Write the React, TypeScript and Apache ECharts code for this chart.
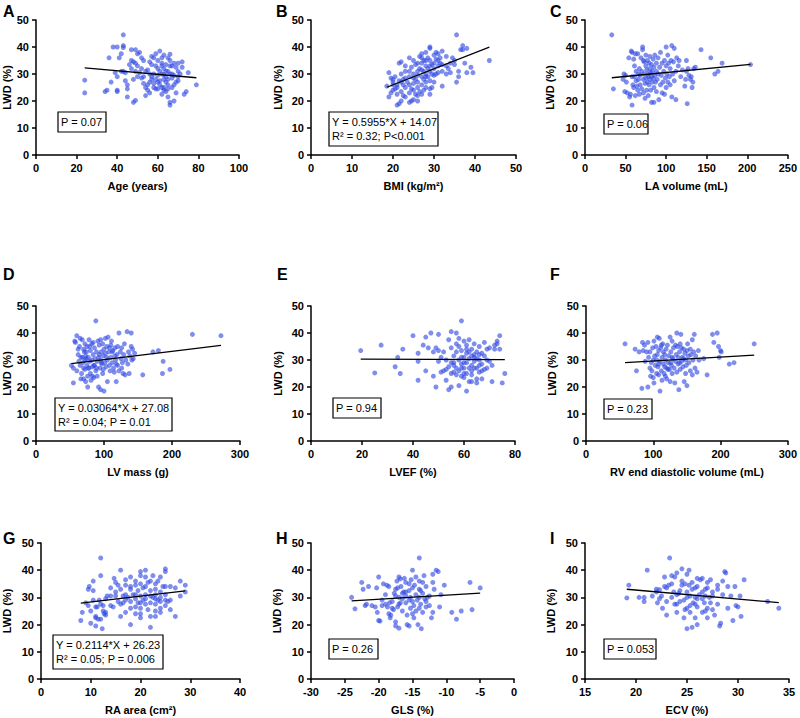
import React, { useEffect, useRef } from 'react';
import * as echarts from 'echarts';

type P = [number, number];

const panelLabels = ['A', 'B', 'C', 'D', 'E', 'F', 'G', 'H', 'I'];
const xTitles = ['Age (years)', 'BMI (kg/m²)', 'LA volume (mL)', 'LV mass (g)', 'LVEF (%)', 'RV end diastolic volume (mL)', 'RA area (cm²)', 'GLS (%)', 'ECV (%)'];
const yTitle = 'LWD (%)';
const xMin = [0, 0, 0, 0, 0, 0, 0, -30, 15];
const xMax = [100, 50, 250, 300, 80, 300, 40, 0, 35];
const xInterval = [20, 10, 50, 100, 20, 100, 10, 5, 5];
const yMin = 0;
const yMax = 50;
const yInterval = 10;

const ageData: P[] = [[24,27.7],[24,23],[35,24],[34,23.5],[36,36],[38,40],[40,40],[37,27],[39,30.5],[40,24],[40,23.5],[40,29],[41,36],[42,37.5],[43,44.5],[43,40.5],[43,39.8],[43,31],[44,27.5],[45,26],[45,24.5],[45,21.5],[46,33.5],[47,32],[47,39],[48,28],[48,19.5],[49,20.2],[48,34.5],[49,34],[49,39],[50,37.5],[50,33],[51,38],[51,30.5],[52,32],[52,28.5],[53,29],[53,35],[54,22],[54,25],[55,31.5],[55,26],[56,27],[56,23],[56,34.5],[57,33.5],[57,28],[58,36],[58,30],[58,25],[59,37.5],[59,33],[59,24.5],[60,35],[60,27],[60,29.5],[61,38.5],[61,31],[61,26],[62,34],[62,30],[62,25],[62,22.5],[63,37],[63,32],[63,28],[63,25],[64,33.5],[64,29],[64,27],[64,23.5],[65,36],[65,31],[65,26],[65,21.5],[66,35],[66,37.3],[66,18.5],[66,19.5],[66,30],[67,33],[67,28.5],[67,25],[68,34],[68,20],[68,29.5],[69,32.5],[69,27],[69,23],[70,31],[70,34],[70,27.5],[71,30],[72,34.5],[72,32.5],[73,22.5],[74,23.5],[75,30.5],[79,26],[57,29],[55,24],[53,26.5],[60,32],[62,33],[64,31],[66,33],[67,30],[61,27.5],[58,26.5],[52,36],[47,35],[44,30.5],[42,31],[50,29],[56,30],[59,28],[63,29.8],[65,28],[68,26],[70,29],[57,36.5],[60,24.5],[63,24],[65,24.5],[49,31],[54,31],[62,36]];

const bmiData: P[] = [[18.5,25.5],[19,30.5],[19,21.5],[19.5,23],[19.5,28.5],[20,27],[20,26],[20,24],[20.5,29],[21,22.5],[21,18.5],[21,25],[21.5,19],[21.5,27.5],[21.5,34],[22,34.5],[22,30],[22,20],[22,23.5],[22.5,28],[22.5,26],[23,31],[23,25],[23,21.5],[23,33],[23.5,27],[24,36],[24,29],[24,19.5],[24,23],[24.5,32.5],[24.5,20],[25,35],[25,30],[25,26.5],[25,24],[25,20.5],[25.5,33.5],[25.5,28],[25.5,22.5],[26,34],[26,31],[26,27],[26,25],[26,29.5],[26.5,36.5],[26.5,32],[26.5,23.5],[27,37.5],[27,34],[27,29],[27,26],[27,22.5],[27.5,35],[27.5,31],[27.5,28],[27.5,24],[28,38],[28,33],[28,30],[28,27],[28,25],[28.5,36],[28.5,32],[28.5,29],[29,40],[29,39.5],[29,35],[29,31],[29,27.5],[29,24.5],[29,22.5],[29.5,33.5],[29.5,30],[29.5,25],[30,37],[30,34],[30,32],[30,29.5],[30.5,38],[30.5,35.5],[30.5,30],[31,37.5],[31,33],[31,30.5],[31.5,34],[31.5,36],[32,38.5],[32,31],[32,25.5],[33,33],[33,36.5],[33.5,32],[34,34],[34,30.5],[35,35],[35,33.5],[35.5,44.5],[35.5,27],[36,29],[36,31],[36.5,39],[37,40.5],[37,39],[37.5,34],[38,39.5],[38,30.5],[39,32.5],[39.5,30.5],[43.5,35],[20,28],[21,26],[22,27],[23,28.5],[24,26],[24,31],[25,28.5],[26,22],[27,31.5],[28,35],[29,33],[30,27],[31,35],[32,33.5],[26,20],[24.5,24.5],[22.5,22],[20.5,24.5],[28,29],[27,36],[33,30],[34.5,36]];

const laData: P[] = [[33,44.5],[35,24.5],[47,28],[48,30],[49,23.5],[50,29.5],[51,27],[52,23],[54,36],[55,21.5],[56,22.5],[57,38.5],[58,38],[58,29],[59,26],[60,35.5],[60,25],[61,29],[61,33],[62,37.5],[62,22],[63,31],[63,27.5],[64,25.5],[65,37.5],[65,24],[66,30],[66,28],[67,32],[67,22.5],[68,26],[68,29.5],[69,36],[70,31],[70,24.5],[71,40],[71,39],[72,35],[72,28],[72,23],[73,34.5],[73,30],[74,26.5],[74,21],[75,37],[75,33],[75,28.5],[76,24],[76,31.5],[77,35],[77,27],[78,29],[78,22],[78,30],[79,34],[79,26],[80,36.5],[80,32],[80,28],[81,30.5],[81,24],[82,33.5],[82,29],[82,19.5],[83,31],[83,27],[84,35.5],[84,28.5],[85,25],[85,32.5],[86,29.5],[86,37],[87,27],[88,34],[88,31],[88,23.5],[89,28],[90,36],[90,30],[91,20.5],[92,32.5],[93,26],[93,38],[94,29.5],[95,34],[95,23],[96,27],[97,31],[98,35],[98,22.5],[99,28.5],[100,40],[100,33],[100,25],[101,30],[102,37],[102,27],[103,34],[104,29],[105,32],[105,26],[106,35],[107,40.5],[107,21.5],[108,30],[109,34.5],[110,27.5],[110,39.5],[112,20.5],[112,31],[113,36],[115,33],[116,35],[118,29],[120,31.5],[123,25.5],[124,28],[125,31],[125,35],[126,19],[127,32],[128,29.5],[130,28],[131,29],[132,25],[133,27],[134,32],[136,32.5],[143,39],[155,36],[160,30],[164,31],[169,34],[204,33.5],[58,18.5],[85,19.5]];

const lvMassData: P[] = [[52,28],[55,27],[55,21.5],[57,37],[58,36.5],[60,26],[60,39],[62,32],[62,34],[63,29.5],[65,38],[65,28],[66,23],[67,25],[68,37.5],[68,31],[70,34],[70,27],[70,23],[72,36],[72,30],[72,26.5],[73,22],[74,33],[75,28],[75,35],[76,24],[76,20],[77,31],[78,27],[78,37.5],[79,29.5],[80,33.5],[80,25],[81,22.5],[82,30],[82,36],[83,27.5],[84,32],[85,28],[85,23.5],[86,34.5],[87,30.5],[88,44.5],[88,26],[89,33],[90,29.5],[90,24],[91,37],[92,31],[92,20],[93,35.5],[94,27],[95,30],[95,19],[96,33],[97,28.5],[98,36],[98,25],[99,31.5],[100,34],[100,18.5],[101,29],[102,38],[102,32.5],[103,27.5],[104,35],[105,22],[105,30],[106,38.5],[107,33],[108,28],[109,26],[110,35.5],[110,31],[111,37],[112,29],[113,33.5],[114,27],[115,25.5],[116,34.5],[117,30],[118,22],[119,32],[120,35],[120,28],[122,40],[122,26],[124,33],[125,30.5],[126,34.5],[127,29],[128,25],[129,32],[130,36],[131,24.5],[132,30],[134,40.5],[135,28.5],[136,33],[137,25],[138,31.5],[140,40],[140,35],[141,30],[142,34],[143,30.5],[145,32.5],[157,24.5],[172,33],[180,33.5],[186,25],[187,29.5],[197,26.5],[230,39.5],[272,39],[64,35],[66,31],[69,29],[71,33],[74,30.5],[77,27],[79,35],[83,24],[86,28],[89,27],[93,32],[96,29],[99,26.5],[104,31],[108,34.5],[112,33],[116,31.5],[118,28.5],[126,27],[95,37.5],[84,36.5],[73,31.5]];

const lvefData: P[] = [[19.5,33.5],[25,25.2],[27.5,35.5],[33,27.5],[34,31],[35,25],[36,34],[40,39],[42,32.5],[42,29.5],[42,22.5],[44,35.5],[45,38.5],[45,26],[46,34.5],[47,40],[48,33],[48,24],[49,34.5],[49,20],[50,29.5],[50,39.5],[51,25.5],[51,31],[52,26],[52,33],[53,30],[53,22.5],[54,37.5],[54,27.5],[54,19],[55,40.5],[55,34.5],[55,20],[55,25],[56,31.5],[56,28],[57,36],[57,24.5],[57,40],[58,38],[58,30],[58,20.5],[58,26],[59,44.5],[59,33.5],[59,28.5],[59,24],[60,37],[60,31],[60,27],[60,23.5],[61,35.5],[61,29],[61,25],[61,18.5],[62,37.5],[62,33],[62,30.5],[62,22],[63,34],[63,28],[63,26],[63,24.5],[64,36],[64,31],[64,29.5],[65,33],[65,27],[65,23],[65,21.5],[66,35],[66,30],[66,25.5],[67,32.5],[67,28.5],[67,23],[68,36.5],[68,31.5],[68,26.5],[69,34],[69,27],[70,34.5],[70,29.5],[71,28],[71,22],[72,35.5],[72,34],[73,37],[73,36],[74,39],[74,34],[75,21.5],[76,25],[56,29],[57,33],[58,35],[59,31],[60,29],[61,32.5],[62,27],[63,31.5],[64,27],[65,30.5],[66,28],[56,25.5],[55,29],[57,27],[53,26.5],[50,33.5],[59,27],[61,34],[63,22],[60,25],[64,32],[66,32],[69,30],[67,26]];

const rvData: P[] = [[58,36],[73,34],[75,26],[79,33],[83,19.5],[84,36.5],[85,33.5],[87,35.5],[88,29.5],[90,33],[92,20],[92,36.5],[93,31],[95,27],[97,29],[98,26],[99,34.5],[100,30],[100,23.5],[101,37],[101,21.5],[103,28],[104,35],[105,25],[105,30],[106,38.5],[106,32],[107,27.5],[108,33.5],[108,24.5],[109,38],[110,29.5],[110,18.5],[111,34.5],[112,26],[113,31],[113,22.5],[114,36],[115,28.5],[116,25],[117,32],[118,30],[119,34],[120,27],[120,23],[121,35.5],[122,29],[123,31.5],[124,26.5],[125,38.5],[125,22],[126,33],[127,28],[128,37],[128,25],[129,30.5],[130,34.5],[131,27],[132,21.5],[133,29.5],[134,32],[135,40],[135,25.5],[136,35],[137,31],[137,28.5],[138,19],[139,33],[140,36],[140,26.5],[141,39.5],[142,29.5],[143,31],[144,27.5],[145,34],[146,22],[147,32.5],[148,30],[149,28],[150,33.5],[150,20.5],[151,36],[152,31.5],[153,29],[155,34],[155,26],[156,32],[158,37.5],[158,24.5],[159,30],[160,33],[161,39.5],[162,27],[163,31.5],[165,25.5],[167,33.5],[168,30],[175,30.5],[180,24.5],[188,39.5],[190,36.5],[195,40],[197,35],[198,31],[200,33.5],[201,33],[213,28.5],[220,29],[250,36],[95,33],[102,31.5],[115,33],[118,24],[122,26.5],[128,31],[133,35.5],[139,29],[142,34.5],[148,25],[96,24],[108,28.5],[112,35.5],[126,29],[117,27.5],[145,30.5]];

const raData: P[] = [[8,21.5],[8.3,24.5],[9,28],[9.5,33],[9.5,27],[9.7,34],[10,20.5],[10,25],[10.5,36],[10.5,29],[11,26.5],[11,23],[11,19.5],[11.3,26.5],[11.5,22],[11.7,29],[12,44.5],[12,38],[12,22],[12,27.5],[12.3,18.5],[12.5,25],[12.7,24],[13,23.5],[13,29.5],[13.3,30.5],[14,30.5],[14,27],[14.5,26.5],[14.7,37],[15,35.5],[15,30.5],[15.5,34.5],[15.5,28.5],[16,40],[16,33],[16,23],[16.5,30.5],[16.5,28],[17,36.5],[17,31],[17,29],[17,24.5],[17.5,30],[18,37.5],[18,34],[18,33],[18,20],[18,28.5],[18.5,31],[19,34.5],[19,29.5],[19,26.5],[19,24],[19.5,32.5],[19.5,28],[20,39.5],[20,38],[20,35],[20,30.5],[20,26],[20,24],[20,22.5],[20.5,33.5],[20.5,29],[21,40],[21,37.5],[21,34],[21,31],[21,27.5],[21.5,35.5],[21.5,25.5],[22,36],[22,32.5],[22,28],[22,19],[22,23],[22.5,38],[22.5,30],[23,35],[23,33],[23,31],[23,27.5],[23,25],[23,23],[23.5,36],[23.5,29],[24,37.5],[24,32],[24,30],[24,26],[24,24.5],[24.5,34],[25,40.5],[25,39.5],[25,34],[25,31],[25,29],[25,27],[25.5,28.5],[26,34],[26,25.5],[26,29],[27,33.5],[27,23],[28,36],[28,30.5],[29,34.5],[29,32],[19,36],[18,26],[17,34.5],[16,27.5],[15,32],[13,24.5],[14,33.5],[10.5,32.5],[22,30.5],[23,29.5],[21,29.5],[20,28],[24,28.5],[19,31],[12.5,27],[11,22.5]];

const glsData: P[] = [[-24,30],[-23.5,25.8],[-22.5,35.5],[-22.3,33],[-22,27],[-21.8,27.5],[-21.5,34],[-21,27],[-20.5,26.5],[-20.3,33.5],[-20.2,24.5],[-20,37.5],[-20,21.5],[-19.8,21.3],[-19.5,27],[-19.3,35],[-19,31],[-19,27.5],[-18.8,34.5],[-18.5,34],[-18.5,24],[-18.3,22.5],[-18.2,23.5],[-18,28.5],[-18,26],[-17.8,25.5],[-17.7,31.5],[-17.5,21],[-17.5,19.5],[-17.3,36],[-17.2,33.5],[-17,37.5],[-17,30],[-17,27.5],[-17,18.7],[-16.8,36.8],[-16.7,34],[-16.5,29.5],[-16.5,25],[-16.3,32],[-16.2,37],[-16,30.5],[-16,28],[-15.8,23.5],[-15.8,20],[-15.5,35],[-15.5,32.5],[-15.5,19.5],[-15.3,30],[-15.3,26],[-15,40],[-15,33.5],[-15,28.5],[-14.8,22.5],[-14.7,34.5],[-14.5,37.5],[-14.5,31],[-14.5,25],[-14.3,29],[-14.2,20],[-14,44.5],[-14,36],[-14,33],[-13.8,27.5],[-13.7,18.5],[-13.5,35.5],[-13.5,31.5],[-13.5,24.5],[-13.3,38],[-13.2,29.5],[-13,34],[-13,26.5],[-12.8,30],[-12.5,30.5],[-12.5,27],[-12.2,22.5],[-12,38.5],[-12,35.5],[-12,24.5],[-11.8,33],[-11.5,40],[-11.2,39.5],[-11,26.5],[-10.8,31],[-10.3,34.5],[-9.2,24.5],[-7.8,25],[-8.5,22],[-6.5,35.5],[-6.2,25.5],[-5,33.5],[-17.5,30.5],[-16.8,28],[-16,32],[-15.5,29],[-14.8,27],[-14,30],[-13.8,32.5],[-16.5,31.5],[-17.2,26.5],[-18.7,26.5],[-19.5,29],[-15,24],[-14,26],[-13,28.5],[-16,35.5],[-17.5,33],[-15.2,36.5],[-18.4,28]];

const ecvData: P[] = [[19.1,29.8],[19.3,34.5],[20.3,30],[20.8,30],[20.8,28.5],[21.1,40],[21.6,30.5],[22,33],[22,32],[22.1,28],[22.3,29.5],[22.5,30.5],[22.6,26],[22.8,37.5],[22.8,34],[23,28.5],[23,23.5],[23.2,34.5],[23.3,44.5],[23.5,38],[23.5,30],[23.7,32],[23.8,37.5],[23.8,27.5],[24,39],[24,24.5],[24.2,31.5],[24.3,28.5],[24.5,40.5],[24.5,34.5],[24.7,29],[24.7,22.5],[24.8,35],[25,38.5],[25,32],[25,26],[25,18.5],[25.2,40],[25.2,34.5],[25.3,30.5],[25.3,24.5],[25.5,19],[25.5,35.5],[25.6,28],[25.8,33.5],[25.8,30],[25.8,22.5],[26,34],[26,29.5],[26,26.5],[26,20],[26.2,31],[26.3,36.5],[26.5,37],[26.5,24.5],[26.7,28],[26.8,33],[26.8,30.5],[27,35.5],[27,22.5],[27,26],[27.2,30],[27.3,36.5],[27.3,28],[27.5,32],[27.5,25.5],[27.7,23.5],[28,34.5],[28,33],[28,27.5],[28.2,19.5],[28.3,20.5],[28.5,36],[28.5,31],[28.7,39.5],[28.8,39],[29,26],[29,34],[29.3,30.5],[29.5,21.5],[29.7,34],[29.8,27],[30,26.5],[30.2,30.5],[30.3,23],[30.6,36.5],[32.9,28.5],[34,26],[24,31],[25.5,33],[26.5,32],[25,30],[24.5,36],[27,33.5],[23.5,35],[24,27.5],[25.8,27.5],[26,37],[24.3,32.5],[26.8,25],[22.3,32.8],[23,33.5],[26.5,29.5],[25.3,27],[27.5,30.5],[24.8,25.5]];

const panelData: P[][] = [ageData, bmiData, laData, lvMassData, lvefData, rvData, raData, glsData, ecvData];

const fitSlope = [-0.067, 0.5955, 0.0292, 0.03064, -0.003, 0.01458, 0.2114, 0.1526, -0.329];
const fitIntercept = [33.9, 14.07, 27.64, 27.08, 30.35, 28.15, 26.23, 32.35, 39.28];

const annotations = [
  'P = 0.07',
  'Y = 0.5955*X + 14.07\nR² = 0.32; P<0.001',
  'P = 0.06',
  'Y = 0.03064*X + 27.08\nR² = 0.04; P = 0.01',
  'P = 0.94',
  'P = 0.23',
  'Y = 0.2114*X + 26.23\nR² = 0.05; P = 0.006',
  'P = 0.26',
  'P = 0.053',
];

// layout (pixels)
const gridLeftPx = [36, 311, 585, 36, 311, 586, 36, 311, 585];
const gridRightPx = [239, 516, 789, 240, 515, 789, 240, 514, 789];
const rowTopPx = [20, 306, 543];
const rowBottomPx = [155, 441, 679];
const yNameGap = [15, 20, 22, 15, 20, 21, 21, 21, 21];
const boxes = [
  [58, 112, 48, 20],
  [329, 112, 109, 34],
  [604, 114, 44, 20],
  [55, 398, 117, 33],
  [333, 398, 48, 20],
  [604, 399, 48, 20],
  [53, 635, 110, 34],
  [329, 639, 49, 20],
  [604, 639, 52, 20],
];
const labelPos = [
  [3, 3], [276, 3], [550, 3],
  [3, 266], [277, 266], [550, 266],
  [3, 530], [276, 530], [550, 530],
];

const FONT = '"Liberation Sans", Arial, Helvetica, sans-serif';
const DOT = '#3049e2';

function buildOption() {
  const grid: any[] = [];
  const xAxis: any[] = [];
  const yAxis: any[] = [];
  const series: any[] = [];
  const graphic: any[] = [];

  for (let i = 0; i < 9; i++) {
    const r = Math.floor(i / 3);
    grid.push({
      left: gridLeftPx[i],
      width: gridRightPx[i] - gridLeftPx[i],
      top: rowTopPx[r],
      height: rowBottomPx[r] - rowTopPx[r],
      containLabel: false,
    });
    const axisCommon = {
      axisLine: { show: true, onZero: false, lineStyle: { color: '#000', width: 1.5 } },
      axisTick: { show: true, length: 4, lineStyle: { color: '#000', width: 1.5 } },
      splitLine: { show: false },
      axisLabel: { color: '#000', fontFamily: FONT, fontWeight: 'bold', fontSize: 11, margin: 7 },
      nameTextStyle: { color: '#000', fontFamily: FONT, fontWeight: 'bold', fontSize: 11 },
    };
    xAxis.push({
      ...axisCommon,
      type: 'value',
      gridIndex: i,
      min: xMin[i],
      max: xMax[i],
      interval: xInterval[i],
      name: xTitles[i],
      nameLocation: 'middle',
      nameGap: 25,
    });
    yAxis.push({
      ...axisCommon,
      type: 'value',
      gridIndex: i,
      min: yMin,
      max: yMax,
      interval: yInterval,
      name: yTitle,
      nameLocation: 'middle',
      nameGap: yNameGap[i] + 8,
    });
    const data = panelData[i];
    series.push({
      type: 'scatter',
      xAxisIndex: i,
      yAxisIndex: i,
      data,
      symbolSize: 5,
      itemStyle: { color: DOT, opacity: 0.62 },
      z: 2,
      silent: true,
    });
    const xs = data.map((d) => d[0]);
    const x0 = Math.min(...xs);
    const x1 = Math.max(...xs);
    series.push({
      type: 'line',
      xAxisIndex: i,
      yAxisIndex: i,
      data: [
        [x0, fitSlope[i] * x0 + fitIntercept[i]],
        [x1, fitSlope[i] * x1 + fitIntercept[i]],
      ],
      symbol: 'none',
      lineStyle: { color: '#000', width: 1.3 },
      z: 3,
      silent: true,
    });

    const [bx, by, bw, bh] = boxes[i];
    graphic.push({
      type: 'rect',
      shape: { x: bx, y: by, width: bw, height: bh },
      style: { fill: '#fff', stroke: '#000', lineWidth: 1.2 },
      z: 10,
    });
    graphic.push({
      type: 'text',
      x: bx + 3,
      y: by + bh / 2,
      style: {
        text: annotations[i],
        fill: '#000',
        font: `11px ${FONT}`,
        lineHeight: 14,
        verticalAlign: 'middle',
        align: 'left',
      },
      z: 11,
    });
    graphic.push({
      type: 'text',
      x: labelPos[i][0],
      y: labelPos[i][1],
      style: {
        text: panelLabels[i],
        fill: '#000',
        font: `bold 16px ${FONT}`,
        verticalAlign: 'top',
        align: 'left',
      },
      z: 11,
    });
  }

  return {
    animation: false,
    backgroundColor: '#fff',
    grid,
    xAxis,
    yAxis,
    series,
    graphic,
  };
}

export default function App() {
  const ref = useRef<HTMLDivElement>(null);
  useEffect(() => {
    if (!ref.current) return;
    const chart = echarts.init(ref.current, undefined, { renderer: 'svg' });
    chart.setOption(buildOption() as any);
    return () => chart.dispose();
  }, []);
  return (
    <div
      ref={ref}
      style={{ position: 'fixed', left: 0, top: 0, width: 800, height: 718, background: '#fff' }}
    />
  );
}
